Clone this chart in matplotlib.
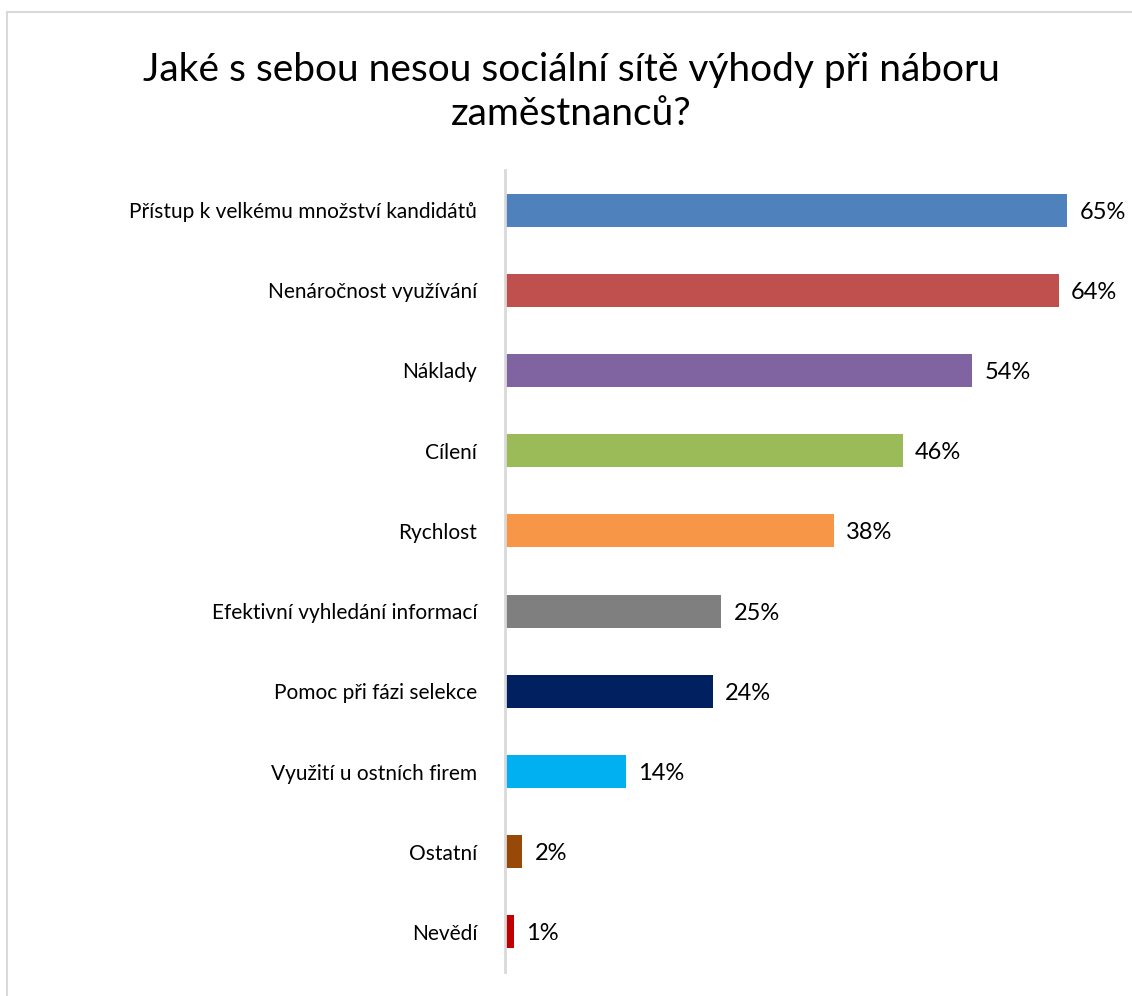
import matplotlib.pyplot as plt

plt.rcParams['font.family'] = ['Lato', 'DejaVu Sans']

categories = ['Přístup k velkému množství kandidátů', 'Nenáročnost využívání', 'Náklady',
              'Cílení', 'Rychlost', 'Efektivní vyhledání informací', 'Pomoc při fázi selekce',
              'Využití u ostních firem', 'Ostatní', 'Nevědí']
values = [65, 64, 54, 46, 38, 25, 24, 14, 2, 1]
colors = ['#4F81BD', '#C0504D', '#8064A2', '#9BBB59', '#F79646', '#7F7F7F',
          '#002060', '#00B0F0', '#984807', '#C00000']

fig = plt.figure(figsize=(11.32, 9.96), dpi=100)

# chart frame (only top and left edges visible in the reference)
fig.add_artist(plt.Line2D([7 / 1132, 7 / 1132], [0, 1 - 12 / 996], transform=fig.transFigure,
                          color='#D9D9D9', lw=1.5))
fig.add_artist(plt.Line2D([7 / 1132, 1], [1 - 12 / 996, 1 - 12 / 996], transform=fig.transFigure,
                          color='#D9D9D9', lw=1.5))

ax = fig.add_axes([505 / 1132, 1 - 972 / 996, (1128 - 505) / 1132, (972 - 170) / 996])

y = list(range(len(categories)))
ax.barh(y, values, height=0.41, color=colors)
for yi, v in zip(y, values):
    ax.text(v + 1.4, yi, f'{v}%', va='center_baseline', ha='left', fontsize=17, color='#000000')

ax.set_xlim(0, 72)
ax.set_ylim(len(categories) - 0.5, -0.5)
ax.set_yticks(y)
ax.set_yticklabels(categories, fontsize=15)
ax.tick_params(axis='y', length=0, pad=20)
ax.set_xticks([])
for s in ['top', 'right', 'bottom']:
    ax.spines[s].set_visible(False)
ax.spines['left'].set_color('#D9D9D9')
ax.spines['left'].set_linewidth(2)

fig.text(571 / 1132, 1 - 92 / 996, 'Jaké s sebou nesou sociální sítě výhody při náboru\nzaměstnanců?',
         ha='center', va='center', fontsize=28, linespacing=1.3)

fig.savefig('out.png', dpi=100)
